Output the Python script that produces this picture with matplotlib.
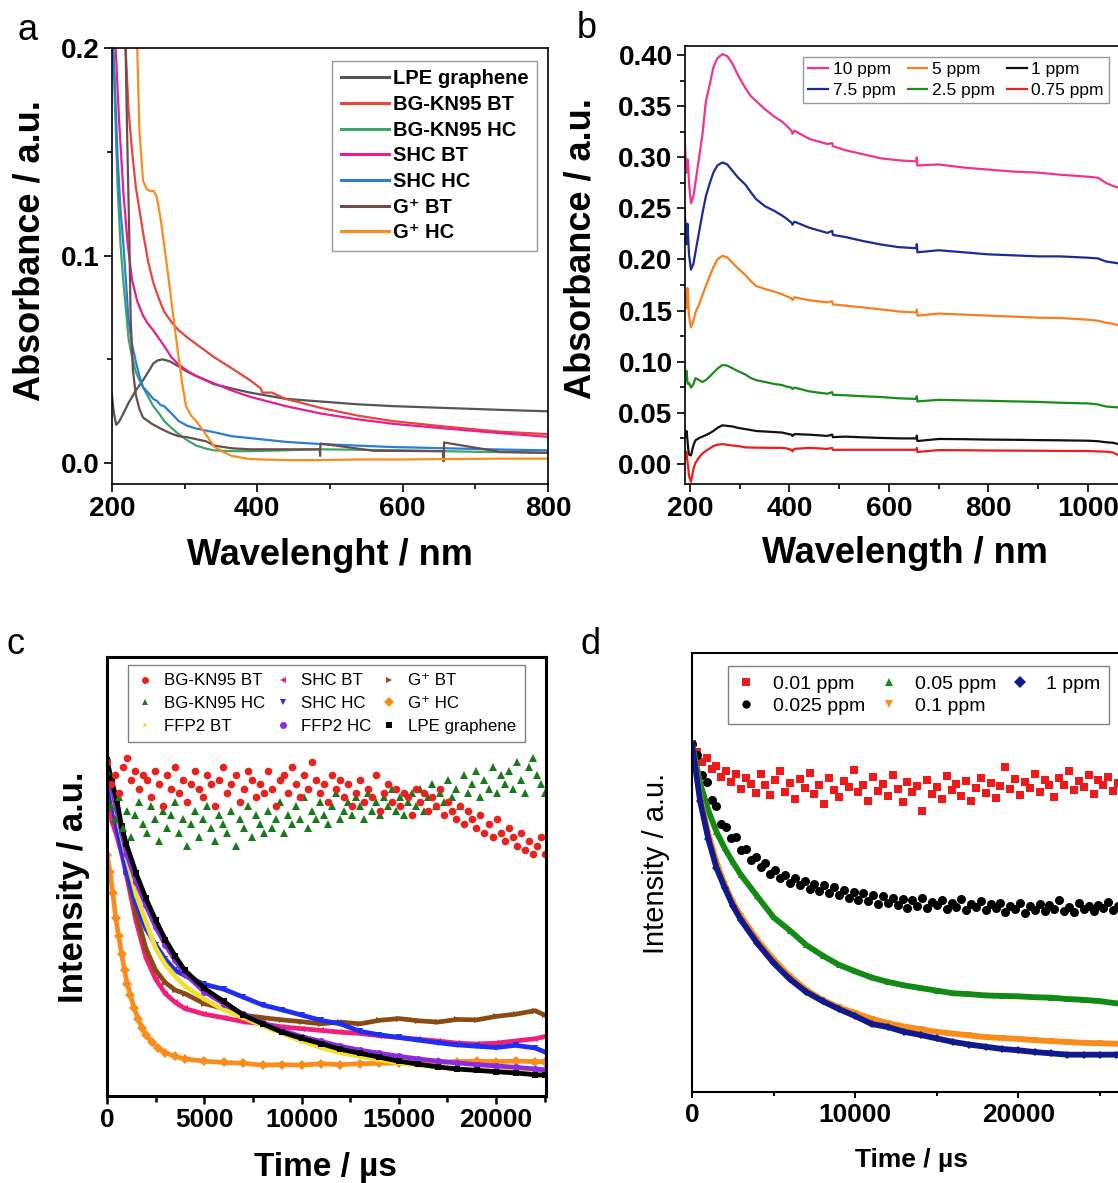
import numpy as np
import matplotlib
matplotlib.use("Agg")
import matplotlib.pyplot as plt
from matplotlib.lines import Line2D
from matplotlib.ticker import MultipleLocator, FormatStrFormatter

plt.rcParams['font.family'] = ['Liberation Sans', 'DejaVu Sans']
plt.rcParams['font.weight'] = 'bold'
plt.rcParams['axes.labelweight'] = 'bold'

# ---------------- panel a: absorbance of the extracts ----------------
a_lpe_wl = [200, 203, 206, 210, 216, 223, 233, 243, 252, 257, 263, 270, 280, 292, 304, 316, 341, 365, 390, 439, 488, 537, 586, 660, 734, 800]
a_lpe = [0.033, 0.024, 0.0185, 0.020, 0.024, 0.029, 0.035, 0.040, 0.045, 0.048, 0.0495, 0.050, 0.049, 0.0466, 0.044, 0.042, 0.038, 0.036, 0.034, 0.031, 0.0297, 0.0284, 0.0275, 0.0266, 0.0257, 0.025]

a_bgbt_wl = [214, 219, 223, 228, 233, 243, 250, 257, 265, 272, 282, 292, 304, 316, 341, 365, 390, 405, 407, 420, 439, 488, 537, 586, 660, 734, 800]
a_bgbt = [0.225, 0.2, 0.170, 0.150, 0.133, 0.111, 0.097, 0.087, 0.079, 0.073, 0.068, 0.064, 0.0605, 0.0574, 0.051, 0.0457, 0.040, 0.036, 0.034, 0.034, 0.031, 0.0266, 0.023, 0.0203, 0.0176, 0.0152, 0.014]

a_bghc_wl = [201, 205, 208, 212, 216, 220, 223, 228, 233, 238, 243, 250, 257, 265, 272, 282, 292, 304, 316, 330, 341, 365, 390, 488, 600, 700, 800]
a_bghc = [0.21, 0.165, 0.133, 0.105, 0.087, 0.072, 0.060, 0.051, 0.044, 0.040, 0.0366, 0.032, 0.0275, 0.024, 0.0203, 0.017, 0.014, 0.011, 0.0085, 0.007, 0.0062, 0.0058, 0.0058, 0.0067, 0.0062, 0.0055, 0.005]

a_shcbt_wl = [203, 206, 210, 216, 222, 228, 235, 243, 250, 257, 265, 272, 282, 292, 304, 316, 341, 365, 390, 439, 488, 537, 586, 660, 734, 800]
a_shcbt = [0.215, 0.195, 0.165, 0.130, 0.105, 0.088, 0.078, 0.071, 0.067, 0.064, 0.060, 0.0565, 0.051, 0.0475, 0.0445, 0.042, 0.0384, 0.035, 0.032, 0.0275, 0.0239, 0.0212, 0.019, 0.0167, 0.0145, 0.0127]

a_shchc_wl = [201, 205, 208, 212, 216, 220, 223, 228, 233, 238, 243, 250, 257, 262, 267, 272, 282, 292, 304, 316, 341, 365, 390, 439, 488, 537, 586, 660, 734, 800]
a_shchc = [0.21, 0.175, 0.147, 0.122, 0.105, 0.085, 0.069, 0.057, 0.049, 0.042, 0.0366, 0.034, 0.031, 0.030, 0.028, 0.0275, 0.024, 0.0203, 0.018, 0.0167, 0.0149, 0.013, 0.0121, 0.0103, 0.0092, 0.0085, 0.0078, 0.0072, 0.0066, 0.0062]

a_gpbt_wl = [214, 219, 221, 224, 226, 229, 233, 238, 243, 255, 267, 280, 292, 304, 316, 330, 341, 365, 390, 486, 486.5, 487, 560, 656, 656.5, 657, 734, 800]
a_gpbt = [0.23, 0.2, 0.16, 0.11, 0.069, 0.045, 0.033, 0.026, 0.022, 0.019, 0.0167, 0.0145, 0.013, 0.0125, 0.0116, 0.0105, 0.0085, 0.0072, 0.0067, 0.0067, 0.0035, 0.0095, 0.006, 0.0058, 0.001, 0.010, 0.0055, 0.005]

a_gphc_wl = [232, 235, 238, 243, 248, 253, 258, 262, 267, 272, 277, 282, 287, 292, 297, 302, 309, 316, 323, 331, 341, 351, 365, 390, 439, 488, 537, 600, 660, 734, 800]
a_gphc = [0.23, 0.2, 0.16, 0.136, 0.132, 0.131, 0.131, 0.128, 0.118, 0.105, 0.092, 0.078, 0.064, 0.051, 0.038, 0.0275, 0.023, 0.0203, 0.017, 0.013, 0.008, 0.0058, 0.0035, 0.002, 0.0015, 0.0015, 0.0018, 0.0018, 0.002, 0.0022, 0.0022]

a_labels = ["LPE graphene", "BG-KN95 BT", "BG-KN95 HC", "SHC BT", "SHC HC", "G\u207a BT", "G\u207a HC"]
a_colors = ["#555555", "#e8453c", "#3aa66a", "#ec1c8c", "#2a7ed8", "#6d4c4c", "#f98c1a"]

# ---------------- panel b: concentration series ----------------
b_wl = [189, 191, 193, 195, 196.4, 198, 202, 207, 211, 218, 225, 232, 240, 247, 255, 265, 275, 285, 297, 311,
        322, 333, 351, 369, 385, 394, 404, 406, 410, 440, 476, 486, 487, 512, 548, 584, 620, 655, 656, 657,
        700, 750, 799, 850, 900, 943, 1000, 1020, 1036, 1050, 1063, 1080, 1100]
b_10 = [0.325, 0.300, 0.285, 0.298, 0.292, 0.275, 0.255, 0.262, 0.275, 0.299, 0.322, 0.355, 0.372, 0.388, 0.397, 0.401, 0.399, 0.392, 0.380, 0.368,
        0.360, 0.355, 0.347, 0.340, 0.335, 0.331, 0.326, 0.323, 0.326, 0.318, 0.313, 0.314, 0.311, 0.307, 0.303, 0.299, 0.297, 0.296, 0.300, 0.292,
        0.293, 0.290, 0.288, 0.286, 0.285, 0.283, 0.281, 0.280, 0.275, 0.272, 0.270, 0.268, 0.266]
b_75 = [0.251, 0.232, 0.215, 0.235, 0.222, 0.205, 0.190, 0.196, 0.207, 0.226, 0.245, 0.262, 0.275, 0.285, 0.292, 0.295, 0.293, 0.287, 0.280, 0.2735,
        0.266, 0.259, 0.252, 0.2477, 0.243, 0.240, 0.236, 0.234, 0.237, 0.231, 0.226, 0.228, 0.224, 0.222, 0.218, 0.2146, 0.212, 0.211, 0.215, 0.207,
        0.209, 0.207, 0.205, 0.204, 0.203, 0.203, 0.2017, 0.201, 0.198, 0.197, 0.196, 0.194, 0.192]
b_5 = [0.1666, 0.160, 0.152, 0.172, 0.160, 0.145, 0.1335, 0.140, 0.148, 0.1556, 0.165, 0.174, 0.184, 0.1924, 0.200, 0.2035, 0.202, 0.197, 0.191, 0.185,
       0.179, 0.174, 0.171, 0.1685, 0.166, 0.164, 0.162, 0.160, 0.163, 0.160, 0.158, 0.159, 0.156, 0.1548, 0.153, 0.1511, 0.149, 0.148, 0.151, 0.145,
       0.147, 0.146, 0.145, 0.144, 0.143, 0.1427, 0.141, 0.140, 0.138, 0.137, 0.1353, 0.134, 0.133]
b_25 = [0.0708, 0.085, 0.091, 0.080, 0.078, 0.079, 0.0745, 0.078, 0.0837, 0.082, 0.080, 0.082, 0.0855, 0.089, 0.093, 0.0966, 0.096, 0.0935, 0.0905, 0.0874,
        0.084, 0.0818, 0.080, 0.0781, 0.077, 0.0755, 0.0745, 0.073, 0.0745, 0.0708, 0.0685, 0.070, 0.0675, 0.067, 0.066, 0.0653, 0.064, 0.0634, 0.066, 0.061,
        0.0625, 0.062, 0.0616, 0.061, 0.0605, 0.0597, 0.059, 0.058, 0.056, 0.0555, 0.055, 0.054, 0.053]
b_1 = [0.030, 0.027, 0.032, 0.0229, 0.015, 0.009, 0.008, 0.018, 0.0229, 0.025, 0.0265, 0.028, 0.030, 0.032, 0.035, 0.0376, 0.037, 0.0365, 0.035, 0.0339,
       0.033, 0.032, 0.0315, 0.031, 0.0305, 0.0295, 0.0284, 0.027, 0.029, 0.0284, 0.0272, 0.0285, 0.026, 0.0265, 0.0258, 0.0252, 0.0248, 0.0247, 0.0275, 0.0222,
       0.0242, 0.024, 0.0236, 0.0234, 0.0231, 0.0229, 0.0225, 0.022, 0.021, 0.0205, 0.019, 0.0185, 0.018]
b_075 = [0.0044, 0.010, 0.0118, 0.002, -0.003, -0.012, -0.0177, -0.005, 0.0007, 0.006, 0.010, 0.0125, 0.015, 0.0173, 0.0185, 0.0192, 0.0185, 0.0178, 0.0173, 0.016,
         0.0158, 0.0157, 0.0156, 0.0155, 0.0155, 0.015, 0.0136, 0.012, 0.0145, 0.0155, 0.0145, 0.0155, 0.0135, 0.0136, 0.0136, 0.0136, 0.0136, 0.0136, 0.0155, 0.0115,
         0.0133, 0.0132, 0.0129, 0.0128, 0.0127, 0.0125, 0.0124, 0.012, 0.0118, 0.011, 0.008, 0.0085, 0.0083]
b_labels = ["10 ppm", "7.5 ppm", "5 ppm", "2.5 ppm", "1 ppm", "0.75 ppm"]
b_colors = ["#f0338f", "#1b2b96", "#f77f1f", "#1a8c1a", "#111111", "#ee1c1c"]

# ---------------- panel c: decay of the extracts ----------------
c_t = [0, 250, 500, 750, 1000, 1500, 2000, 2500, 3000, 3500, 4000, 5000, 6000, 7000, 8000,
       9000, 10000, 11000, 12000, 13000, 14000, 15000, 16000, 17000, 18000, 19000, 20000, 21000, 22000, 22500]
c_lpe = [0.765, 0.716, 0.675, 0.614, 0.573, 0.507, 0.450, 0.401, 0.356, 0.319, 0.286, 0.245, 0.215, 0.184, 0.164,
         0.145, 0.131, 0.119, 0.106, 0.097, 0.088, 0.079, 0.072, 0.066, 0.061, 0.058, 0.055, 0.052, 0.048, 0.047]
c_ffp2_hc = [0.765, 0.700, 0.651, 0.601, 0.552, 0.487, 0.434, 0.385, 0.344, 0.309, 0.278, 0.237, 0.210, 0.186, 0.166,
             0.149, 0.135, 0.124, 0.113, 0.104, 0.097, 0.090, 0.084, 0.079, 0.075, 0.071, 0.068, 0.065, 0.061, 0.059]
c_ffp2_bt = [0.757, 0.700, 0.642, 0.593, 0.544, 0.458, 0.397, 0.336, 0.299, 0.273, 0.250, 0.221, 0.196, 0.178, 0.160,
             0.142, 0.125, 0.110, 0.098, 0.090, 0.082, 0.075, 0.070, 0.065, 0.061, 0.058, 0.056, 0.055, 0.053, 0.052]
c_shc_bt = [0.757, 0.626, 0.593, 0.552, 0.503, 0.397, 0.315, 0.266, 0.233, 0.213, 0.199, 0.186, 0.178, 0.169, 0.164,
            0.157, 0.153, 0.149, 0.145, 0.142, 0.137, 0.133, 0.129, 0.125, 0.120, 0.118, 0.120, 0.125, 0.130, 0.135]
c_shc_hc = [0.757, 0.675, 0.610, 0.561, 0.511, 0.438, 0.381, 0.344, 0.311, 0.286, 0.274, 0.254, 0.243, 0.225, 0.207,
            0.196, 0.184, 0.172, 0.164, 0.147, 0.139, 0.133, 0.127, 0.121, 0.116, 0.113, 0.110, 0.115, 0.109, 0.100]
c_gp_bt = [0.757, 0.667, 0.618, 0.561, 0.511, 0.417, 0.336, 0.286, 0.258, 0.241, 0.233, 0.210, 0.199, 0.184, 0.178,
           0.173, 0.169, 0.164, 0.168, 0.164, 0.172, 0.176, 0.171, 0.168, 0.174, 0.173, 0.181, 0.186, 0.194, 0.184]
c_t_gphc = [0, 150, 300, 450, 600, 750, 900, 1050, 1200, 1400, 1600, 1800, 2000, 2300, 2600, 3000, 3500, 4000, 5000,
            6000, 7000, 8000, 9000, 10000, 11000, 12000, 13000, 14000, 15000, 16000, 17000, 18000, 19000, 20000, 21000, 22000, 22500]
c_gp_hc = [0.548, 0.511, 0.462, 0.405, 0.364, 0.323, 0.286, 0.254, 0.229, 0.200, 0.176, 0.155, 0.139, 0.123, 0.110, 0.098, 0.090, 0.084, 0.079,
           0.076, 0.074, 0.070, 0.071, 0.070, 0.073, 0.071, 0.073, 0.074, 0.075, 0.078, 0.076, 0.078, 0.079, 0.078, 0.079, 0.078, 0.078]
c_bg_bt = [0.76, 0.71, 0.73, 0.69, 0.75, 0.77, 0.72, 0.74, 0.70, 0.73,
           0.72, 0.68, 0.74, 0.71, 0.66, 0.73, 0.70, 0.75, 0.69, 0.72,
           0.67, 0.71, 0.74, 0.70, 0.68, 0.73, 0.71, 0.66, 0.72, 0.75,
           0.69, 0.71, 0.73, 0.67, 0.70, 0.74, 0.72, 0.68, 0.71, 0.69,
           0.74, 0.70, 0.66, 0.72, 0.73, 0.69, 0.75, 0.71, 0.68, 0.73,
           0.70, 0.76, 0.72, 0.69, 0.71, 0.67, 0.73, 0.70, 0.72, 0.68,
           0.71, 0.66, 0.69, 0.72, 0.67, 0.70, 0.68, 0.73, 0.65, 0.69,
           0.71, 0.67, 0.70, 0.66, 0.69, 0.68, 0.64, 0.70, 0.67, 0.69,
           0.65, 0.68, 0.66, 0.70, 0.64, 0.67, 0.65, 0.63, 0.66, 0.62,
           0.65, 0.63, 0.61, 0.64, 0.60, 0.62, 0.59, 0.63, 0.60, 0.58,
           0.61, 0.59, 0.57, 0.60, 0.56, 0.58, 0.55, 0.57, 0.59, 0.55]
c_bg_hc = [0.74, 0.66, 0.63, 0.68, 0.61, 0.65, 0.59, 0.64, 0.67, 0.62,
           0.60, 0.66, 0.63, 0.58, 0.65, 0.61, 0.64, 0.67, 0.60, 0.63,
           0.57, 0.62, 0.65, 0.59, 0.63, 0.66, 0.61, 0.58, 0.64, 0.62,
           0.60, 0.65, 0.57, 0.63, 0.61, 0.66, 0.59, 0.64, 0.62, 0.60,
           0.65, 0.61, 0.63, 0.67, 0.60, 0.64, 0.62, 0.66, 0.63, 0.68,
           0.61, 0.65, 0.63, 0.67, 0.64, 0.62, 0.66, 0.69, 0.63, 0.65,
           0.67, 0.64, 0.68, 0.66, 0.63, 0.69, 0.65, 0.67, 0.64, 0.68,
           0.66, 0.70, 0.65, 0.68, 0.64, 0.67, 0.69, 0.66, 0.70, 0.65,
           0.68, 0.71, 0.66, 0.69, 0.67, 0.72, 0.68, 0.70, 0.66, 0.73,
           0.69, 0.71, 0.74, 0.68, 0.72, 0.70, 0.75, 0.69, 0.73, 0.71,
           0.74, 0.70, 0.76, 0.72, 0.69, 0.75, 0.77, 0.73, 0.71, 0.69]

# ---------------- panel d: decay vs concentration ----------------
d_t = [0, 500, 1000, 1500, 2000, 2500, 3000, 4000, 5000, 6000, 7000, 8000, 9000, 10000, 11000, 12000,
       13000, 14000, 15000, 16000, 17000, 18000, 19000, 20000, 21000, 22000, 23000, 24000, 25000, 26000, 27000]
d_1ppm = [0.793, 0.662, 0.576, 0.510, 0.465, 0.424, 0.391, 0.338, 0.293, 0.256, 0.227, 0.206, 0.188, 0.172, 0.154, 0.147,
          0.136, 0.129, 0.121, 0.113, 0.107, 0.102, 0.097, 0.094, 0.090, 0.087, 0.084, 0.084, 0.084, 0.084, 0.084]
d_01ppm = [0.793, 0.670, 0.588, 0.523, 0.473, 0.432, 0.400, 0.346, 0.301, 0.263, 0.232, 0.209, 0.192, 0.179, 0.166, 0.156,
           0.148, 0.142, 0.136, 0.132, 0.128, 0.124, 0.122, 0.120, 0.117, 0.115, 0.113, 0.111, 0.110, 0.109, 0.108]
d_005ppm = [0.793, 0.703, 0.641, 0.592, 0.555, 0.523, 0.494, 0.445, 0.397, 0.367, 0.334, 0.310, 0.289, 0.274, 0.260, 0.250,
            0.242, 0.236, 0.230, 0.224, 0.222, 0.219, 0.218, 0.217, 0.215, 0.214, 0.211, 0.209, 0.206, 0.201, 0.199]
d_0025ppm = [0.793, 0.768, 0.722, 0.705, 0.665, 0.652, 0.611, 0.604, 0.578, 0.581,
             0.551, 0.553, 0.528, 0.534, 0.512, 0.520, 0.497, 0.505, 0.486, 0.494,
             0.476, 0.488, 0.470, 0.479, 0.462, 0.474, 0.458, 0.470, 0.452, 0.466,
             0.449, 0.460, 0.441, 0.456, 0.437, 0.452, 0.434, 0.447, 0.428, 0.445,
             0.431, 0.442, 0.425, 0.438, 0.419, 0.436, 0.424, 0.441, 0.418, 0.433,
             0.425, 0.437, 0.417, 0.430, 0.421, 0.439, 0.415, 0.428, 0.420, 0.434,
             0.413, 0.427, 0.418, 0.431, 0.410, 0.424, 0.416, 0.429, 0.408, 0.422,
             0.414, 0.428, 0.411, 0.425, 0.417, 0.436, 0.412, 0.421, 0.409, 0.430,
             0.416, 0.423, 0.411, 0.426, 0.418, 0.432, 0.414, 0.424, 0.419]
d_001ppm = [0.793, 0.775, 0.752, 0.760, 0.735, 0.742, 0.718, 0.731, 0.705, 0.724,
            0.690, 0.716, 0.702, 0.681, 0.725, 0.698, 0.676, 0.711, 0.730, 0.684,
            0.703, 0.667, 0.712, 0.693, 0.726, 0.679, 0.700, 0.655, 0.715, 0.688,
            0.671, 0.709, 0.694, 0.734, 0.682, 0.699, 0.663, 0.717, 0.686, 0.702,
            0.675, 0.721, 0.690, 0.660, 0.706, 0.683, 0.697, 0.640, 0.711, 0.679,
            0.694, 0.668, 0.719, 0.687, 0.701, 0.674, 0.708, 0.662, 0.692, 0.715,
            0.681, 0.703, 0.670, 0.696, 0.741, 0.689, 0.712, 0.677, 0.705, 0.693,
            0.724, 0.684, 0.710, 0.698, 0.672, 0.716, 0.700, 0.731, 0.688, 0.707,
            0.695, 0.722, 0.679, 0.711, 0.699, 0.718, 0.686, 0.704, 0.714]

W, H = 1118, 1183
fig = plt.figure(figsize=(W / 100, H / 100), dpi=100)


def px_axes(left, top, right, bottom):
    # place an axes from pixel edges of the reference
    return fig.add_axes([left / W, 1 - bottom / H, (right - left) / W, (bottom - top) / H])


ax_a = px_axes(111.8, 47.8, 548, 484)
ax_b = px_axes(685, 46, 1137.75, 483.6)
ax_c = px_axes(107, 657, 545.7, 1095.8)
ax_d = px_axes(692, 653, 1149, 1091.5)


def place_labels(ax, xl, yl):
    ax.xaxis.set_label_coords(*xl)
    ax.xaxis.label.set_va('center')
    ax.yaxis.set_label_coords(*yl)
    ax.yaxis.label.set_va('center')
    ax.yaxis.label.set_ha('center')


# --- a ---
a_series = [(a_lpe_wl, a_lpe), (a_bgbt_wl, a_bgbt), (a_bghc_wl, a_bghc), (a_shcbt_wl, a_shcbt),
            (a_shchc_wl, a_shchc), (a_gpbt_wl, a_gpbt), (a_gphc_wl, a_gphc)]
for (wl, ab), lab, col in zip(a_series, a_labels, a_colors):
    ax_a.plot(wl, ab, color=col, lw=1.6, label=lab)
ax_a.set_xlim(200, 800)
ax_a.set_ylim(-0.01, 0.2)
ax_a.xaxis.set_major_locator(MultipleLocator(200))
ax_a.xaxis.set_minor_locator(MultipleLocator(100))
ax_a.yaxis.set_major_locator(MultipleLocator(0.1))
ax_a.yaxis.set_minor_locator(MultipleLocator(0.05))
ax_a.yaxis.set_major_formatter(FormatStrFormatter('%.1f'))
ax_a.tick_params(which='both', direction='out', width=1.2, labelsize=20, pad=3)
ax_a.tick_params(which='major', length=6)
ax_a.tick_params(which='minor', length=3.5)
for s in ax_a.spines.values():
    s.set_linewidth(1.2)
ax_a.set_xlabel("Wavelenght / nm", fontsize=26)
ax_a.set_ylabel("Absorbance / a.u.", fontsize=26)
place_labels(ax_a, (0.50, -0.163), (-0.1875, 0.536))
leg = ax_a.legend(loc='upper left', bbox_to_anchor=(0.505, 0.970), borderaxespad=0, fancybox=False,
                  edgecolor='#808080', prop=dict(size=14.5, weight='bold'), handlelength=2.4,
                  handletextpad=0.2, labelspacing=0.33, borderpad=0.42)
leg.get_frame().set_linewidth(1.0)
for ln in leg.get_lines():
    ln.set_linewidth(2.2)

# --- b ---
for vals, lab, col in zip([b_10, b_75, b_5, b_25, b_1, b_075], b_labels, b_colors):
    ax_b.plot(b_wl, vals, color=col, lw=1.6, label=lab)
ax_b.set_xlim(190, 1100)
ax_b.set_ylim(-0.0195, 0.409)
ax_b.xaxis.set_major_locator(MultipleLocator(200))
ax_b.xaxis.set_minor_locator(MultipleLocator(100))
ax_b.yaxis.set_major_locator(MultipleLocator(0.05))
ax_b.yaxis.set_minor_locator(MultipleLocator(0.025))
ax_b.yaxis.set_major_formatter(FormatStrFormatter('%.2f'))
ax_b.tick_params(which='both', direction='out', width=1.2, labelsize=20, pad=3)
ax_b.tick_params(which='major', length=6)
ax_b.tick_params(which='minor', length=3.5)
for s in ax_b.spines.values():
    s.set_linewidth(1.2)
ax_b.set_xlabel("Wavelength / nm", fontsize=26)
ax_b.set_ylabel("Absorbance / a.u.", fontsize=26)
place_labels(ax_b, (0.486, -0.159), (-0.2297, 0.538))
leg = ax_b.legend(loc='upper left', bbox_to_anchor=(0.2606, 0.975), borderaxespad=0, fancybox=False,
                  edgecolor='#808080', ncol=3, prop=dict(size=12.5, weight='normal'), handlelength=1.15,
                  handletextpad=0.25, labelspacing=0.3, columnspacing=0.7, borderpad=0.3)
leg.get_frame().set_linewidth(1.0)

# --- c ---
c_smooth = [
    (c_t_gphc, c_gp_hc, "#f98c1a", "D"),
    (c_t, c_shc_bt, "#f0207a", "<"),
    (c_t, c_gp_bt, "#8b4a14", ">"),
    (c_t, c_shc_hc, "#1f2ef0", "v"),
    (c_t, c_ffp2_bt, "#f0e030", "*"),
    (c_t, c_ffp2_hc, "#8a2be2", "o"),
    (c_t, c_lpe, "#000000", "s"),
]
for t, v, col, mk in c_smooth:
    ax_c.plot(t, v, color=col, lw=3.4, marker=mk, ms=5, mew=0)
c_t_bghc = np.linspace(0, 22500, len(c_bg_hc))
c_t_bgbt = np.linspace(0, 22500, len(c_bg_bt))
ax_c.plot(c_t_bghc, c_bg_hc, ls='none', marker='^', ms=5.5, mew=0, color="#1a7a1a")
ax_c.plot(c_t_bgbt, c_bg_bt, ls='none', marker='o', ms=5.5, mew=0, color="#e8221e")
ax_c.set_xlim(0, 22550)
ax_c.set_ylim(0, 1)
ax_c.set_yticks([])
ax_c.xaxis.set_major_locator(MultipleLocator(5000))
ax_c.xaxis.set_minor_locator(MultipleLocator(2500))
ax_c.tick_params(which='both', direction='out', width=1.8, labelsize=19, pad=3)
ax_c.tick_params(which='major', length=6)
ax_c.tick_params(which='minor', length=4)
for s in ax_c.spines.values():
    s.set_linewidth(2.2)
ax_c.set_xlabel("Time / \u00b5s", fontsize=24)
ax_c.set_ylabel("Intensity / a.u.", fontsize=25)
place_labels(ax_c, (0.497, -0.164), (-0.0775, 0.475))
c_leg_entries = [("#e8221e", "o", "BG-KN95 BT"), ("#1a7a1a", "^", "BG-KN95 HC"), ("#f0e030", "*", "FFP2 BT"),
                 ("#f0207a", "<", "SHC BT"), ("#1f2ef0", "v", "SHC HC"), ("#8a2be2", "o", "FFP2 HC"),
                 ("#8b4a14", ">", "G\u207a BT"), ("#f98c1a", "D", "G\u207a HC"), ("#000000", "s", "LPE graphene")]
handles = [Line2D([], [], ls='none', marker=mk, color=col, ms=5, mew=0) for col, mk, _ in c_leg_entries]
leg = ax_c.legend(handles, [lab for _, _, lab in c_leg_entries], loc='upper left', bbox_to_anchor=(0.0479, 0.9818),
                  borderaxespad=0, fancybox=False, edgecolor='#606060', ncol=3, prop=dict(size=12.2, weight='normal'),
                  handlelength=1.0, handletextpad=0.6, labelspacing=0.45, columnspacing=0.55, borderpad=0.5)
leg.get_frame().set_linewidth(1.0)

# --- d ---
d_t_noisy_red = np.arange(len(d_001ppm)) * 300
d_t_noisy_blk = np.arange(len(d_0025ppm)) * 300
ax_d.plot(d_t_noisy_red, d_001ppm, ls='none', marker='s', ms=5.5, mew=0, color="#f01818")
ax_d.plot(d_t_noisy_blk, d_0025ppm, ls='none', marker='o', ms=6.5, mew=0, color="#000000")
ax_d.plot(d_t, d_005ppm, color="#138a13", lw=4.2, marker='^', ms=4.5, mew=0)
ax_d.plot(d_t, d_01ppm, color="#f98c1a", lw=4.2, marker='v', ms=4.5, mew=0)
ax_d.plot(d_t, d_1ppm, color="#101a8c", lw=4.2, marker='D', ms=4, mew=0)
ax_d.set_xlim(0, 28000)
ax_d.set_ylim(0, 1)
ax_d.set_yticks([])
ax_d.xaxis.set_major_locator(MultipleLocator(10000))
ax_d.xaxis.set_minor_locator(MultipleLocator(5000))
ax_d.tick_params(which='both', direction='out', width=1.4, labelsize=19, pad=4)
ax_d.tick_params(which='major', length=4)
ax_d.tick_params(which='minor', length=3)
for s in ax_d.spines.values():
    s.set_linewidth(1.5)
ax_d.set_xlabel("Time / \u00b5s", fontsize=19)
ax_d.set_ylabel("Intensity / a.u.", fontsize=21, fontweight='normal')
place_labels(ax_d, (0.481, -0.156), (-0.0788, 0.519))
d_leg_entries = [("#f01818", "s", "0.01 ppm"), ("#000000", "o", "0.025 ppm"), ("#138a13", "^", "0.05 ppm"),
                 ("#f98c1a", "v", "0.1 ppm"), ("#101a8c", "D", "1 ppm")]
handles = [Line2D([], [], ls='none', marker=mk, color=col, ms=6, mew=0) for col, mk, _ in d_leg_entries]
leg = ax_d.legend(handles, [lab for _, _, lab in d_leg_entries], loc='upper left', bbox_to_anchor=(0.0788, 0.970),
                  borderaxespad=0, fancybox=False, edgecolor='#606060', ncol=3, prop=dict(size=14, weight='normal'),
                  handlelength=1.0, handletextpad=0.87, labelspacing=0.25, columnspacing=0.69, borderpad=0.45)
leg.get_frame().set_linewidth(1.0)

# panel letters
for letter, x, y in [("a", 28, 30), ("b", 587, 28), ("c", 15, 645), ("d", 590, 645)]:
    fig.text(x / W, 1 - y / H, letter, fontsize=26, fontweight='normal', ha='center', va='center')

fig.savefig("out.png", dpi=100)
